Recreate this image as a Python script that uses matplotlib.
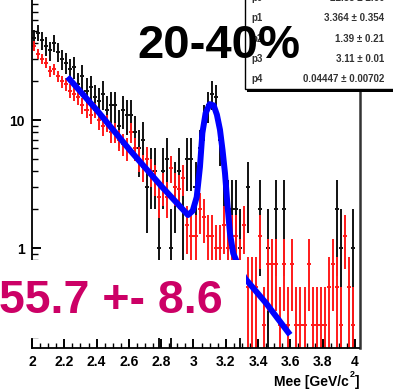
import numpy as np
import matplotlib
matplotlib.use("Agg")
import matplotlib.pyplot as plt
from matplotlib.patches import Rectangle
from matplotlib.ticker import MultipleLocator, FixedLocator, NullFormatter

# --- CANVAS
W, H = 393, 389
DPI = 100

# --- DATA
BIN_LO = 2.0
BIN_W = 0.025

black_counts = [44, 48, 42, 38, 35, 40, 34, 30, 28, 25,
                26, 19, 22, 17, 18, 15, 14, 16, 12, 13,
                13, 9, 12, 11, 11, 8, 6, 7, 3, 4,
                4, 1, 4, 5, 1, 3, 4, 2, 5, 5,
                3, 6, 10, 13, 16, 15, 7, 4, 2, 2,
                2, 1, 0, 3, 0, 0, 2, 0, 1, 0,
                2, 0, 2, 0, 0, 0, 0, 0, 0, 0,
                0, 0, 0, 0, 0, 2, 1, 0, 0, 1]
black_err = [6.6, 6.9, 6.5, 6.2, 5.9, 6.3, 5.8, 5.5, 5.3, 5.0,
             5.1, 4.4, 4.7, 4.1, 4.2, 3.9, 3.7, 4.0, 3.5, 3.6,
             3.6, 3.0, 3.5, 3.3, 3.3, 2.8, 2.4, 2.6, 1.7, 2.0,
             2.0, 1.0, 2.0, 2.2, 1.0, 1.7, 2.0, 1.4, 2.2, 2.2,
             1.7, 2.4, 3.2, 3.6, 4.0, 3.9, 2.6, 2.0, 1.4, 1.4,
             1.4, 1.0, 0.0, 1.7, 0.0, 0.0, 1.4, 0.0, 1.0, 0.0,
             1.4, 0.0, 1.4, 0.0, 0.0, 0.0, 0.0, 0.0, 0.0, 0.0,
             0.0, 0.0, 0.0, 0.0, 0.0, 1.4, 1.0, 0.0, 0.0, 1.0]

red_vals = [38, 33, 30, 28, 24, 25, 22, 20, 19, 17,
            16, 15, 13, 12, 11, 12, 10, 9, 9.5, 8,
            8, 7, 6.5, 6, 8, 6, 5, 4.3, 5, 4,
            3.5, 2.5, 3, 2.5, 4.2, 3, 2.9, 3.5, 1.5, 1.25,
            1.25, 2, 1.75, 1.25, 1.25, 1.0, 1.0, 1.5, 1.0, 1.25,
            1.25, 0.75, 1.5, 0.5, 0.5, 0.5, 1.25, 0.25, 0.75, 0.75,
            0.75, 0.25, 0.75, 0.25, 0.75, 0.25, 0.25, 0.25, 0.75, 0.25,
            0.25, 0.25, 0.25, 0.5, 0.75, 0.5, 0.25, 1.25, 0.5, 0.25]
red_err = [3.1, 2.9, 2.7, 2.6, 2.4, 2.5, 2.3, 2.2, 2.2, 2.1,
           2.0, 1.9, 1.8, 1.7, 1.7, 1.7, 1.6, 1.5, 1.5, 1.4,
           1.4, 1.3, 1.3, 1.2, 1.4, 1.2, 1.1, 1.0, 1.1, 1.0,
           0.94, 0.79, 0.87, 0.79, 1.0, 0.87, 0.85, 0.94, 0.61, 0.56,
           0.56, 0.71, 0.66, 0.56, 0.56, 0.5, 0.5, 0.61, 0.5, 0.56,
           0.56, 0.43, 0.61, 0.35, 0.35, 0.35, 0.56, 0.25, 0.43, 0.43,
           0.43, 0.25, 0.43, 0.25, 0.43, 0.25, 0.25, 0.25, 0.43, 0.25,
           0.25, 0.25, 0.25, 0.35, 0.43, 0.35, 0.25, 0.56, 0.35, 0.25]

fit_x = [2.22, 2.40, 2.607, 2.80, 2.966, 2.995, 3.02, 3.04, 3.055, 3.075,
         3.10, 3.125, 3.145, 3.164, 3.18, 3.195, 3.21, 3.226, 3.246, 3.28,
         3.319, 3.45, 3.598]
fit_y = [21.7, 12.0, 5.8, 3.05, 1.81, 1.95, 2.5, 4.3, 7.9, 11.3,
         13.3, 13.0, 11.0, 8.4, 5.8, 3.85, 2.2, 1.3, 0.91, 0.72,
         0.58, 0.37, 0.21]

x_ticks = [2.0, 2.2, 2.4, 2.6, 2.8, 3.0, 3.2, 3.4, 3.6, 3.8, 4.0]
x_tick_labels = ["2", "2.2", "2.4", "2.6", "2.8", "3", "3.2", "3.4", "3.6", "3.8", "4"]
y_ticks = [1, 10]
y_tick_labels = ["1", "10"]
y_minor = [0.2, 0.3, 0.4, 0.5, 0.6, 0.7, 0.8, 0.9,
           2, 3, 4, 5, 6, 7, 8, 9, 20, 30, 40, 50, 60, 70, 80]

stat_names = ["p0", "p1", "p2", "p3", "p4"]
stat_values = ["22.58 \u00b1 2.60", "3.364 \u00b1 0.354", "1.39 \u00b1 0.21",
               "3.11 \u00b1 0.01", "0.04447 \u00b1 0.00702"]

CENT_LABEL = "20-40%"
YIELD_LABEL = "55.7 +- 8.6"

FONT = "Liberation Sans"


def fx(px):
    return px / W


def fy(py):
    return 1.0 - py / H


def draw_hist(ax, vals, errs, color, lw):
    vals = np.asarray(vals, dtype=float)
    errs = np.asarray(errs, dtype=float)
    centers = BIN_LO + BIN_W * (np.arange(len(vals)) + 0.5)
    m = vals > 0
    lo = np.maximum(vals - errs, 1e-3)
    ax.errorbar(centers[m], vals[m], xerr=BIN_W / 2,
                yerr=[vals[m] - lo[m], errs[m]],
                fmt="none", ecolor=color, elinewidth=lw, capsize=0)


fig = plt.figure(figsize=(W / DPI, H / DPI), dpi=DPI)
ax = fig.add_axes([fx(32), fy(348), fx(359.5) - fx(32), fy(0) - fy(348)])

draw_hist(ax, black_counts, black_err, "#111111", 1.4)
draw_hist(ax, red_vals, red_err, "#ff1a1a", 1.4)
ax.plot(fit_x, fit_y, color="#0000ff", lw=4.3, solid_capstyle="butt", zorder=5)

ax.set_yscale("log")
ax.set_xlim(2.0, 4.028)
ax.set_ylim(0.1655, 86.6)

ax.xaxis.set_major_locator(FixedLocator(x_ticks))
ax.set_xticklabels(x_tick_labels)
ax.xaxis.set_minor_locator(MultipleLocator(0.05))
ax.yaxis.set_major_locator(FixedLocator(y_ticks))
ax.set_yticklabels(y_tick_labels)
ax.yaxis.set_minor_locator(FixedLocator(y_minor))
ax.yaxis.set_minor_formatter(NullFormatter())

ax.tick_params(axis="x", which="major", direction="in", length=6.5, width=1.4, pad=5)
ax.tick_params(axis="x", which="minor", direction="in", length=3.6, width=1.0)
ax.tick_params(axis="y", which="major", direction="in", length=6.5, width=1.4, pad=5)
ax.tick_params(axis="y", which="minor", direction="in", length=4.3, width=1.0)
for lab in ax.get_xticklabels() + ax.get_yticklabels():
    lab.set_fontfamily(FONT)
    lab.set_fontweight("bold")
    lab.set_fontsize(10)

ax.spines["top"].set_visible(False)
for s in ["left", "bottom"]:
    ax.spines[s].set_linewidth(1.3)
ax.spines["right"].set_linewidth(1.8)
ax.spines["right"].set_color("#333333")

# axis title
fig.text(fx(349), fy(386), "Mee [GeV/c", ha="right", va="baseline",
         fontsize=10, fontweight="bold", family=FONT)
fig.text(fx(350), fy(377), "2", ha="left", va="baseline",
         fontsize=6.5, fontweight="bold", family=FONT)
fig.text(fx(359.5), fy(386), "]", ha="right", va="baseline",
         fontsize=10, fontweight="bold", family=FONT)

# stats box with shadow
fig.add_artist(Rectangle((fx(247), fy(92)), fx(160), fy(-10) - fy(92),
                         transform=fig.transFigure, facecolor="black",
                         edgecolor="none", zorder=2))
fig.add_artist(Rectangle((fx(245), fy(89)), fx(160), fy(-10) - fy(89),
                         transform=fig.transFigure, facecolor="white",
                         edgecolor="black", lw=1.0, zorder=2.1))
row_y = [-1.5, 18, 38.5, 59, 79]
for name, val, ry in zip(stat_names, stat_values, row_y):
    fig.text(fx(251), fy(ry), name, ha="left", va="center", fontsize=7,
             fontweight="bold", family=FONT, color="#333333", zorder=3)
    fig.text(fx(384), fy(ry), val, ha="right", va="center", fontsize=7,
             fontweight="bold", family=FONT, color="#333333", zorder=3)

fig.text(fx(219), fy(46), CENT_LABEL, ha="center", va="center",
         fontsize=34, fontweight="bold", family=FONT, color="black", zorder=4)

# yield label on white patch
fig.add_artist(Rectangle((fx(0), fy(338)), fx(246), fy(260) - fy(338),
                         transform=fig.transFigure, facecolor="white",
                         edgecolor="none", zorder=2))
fig.text(fx(-1), fy(301), YIELD_LABEL, ha="left", va="center",
         fontsize=33.5, fontweight="bold", family=FONT, color="#cc0066", zorder=4)

fig.savefig("out.png", dpi=DPI)
